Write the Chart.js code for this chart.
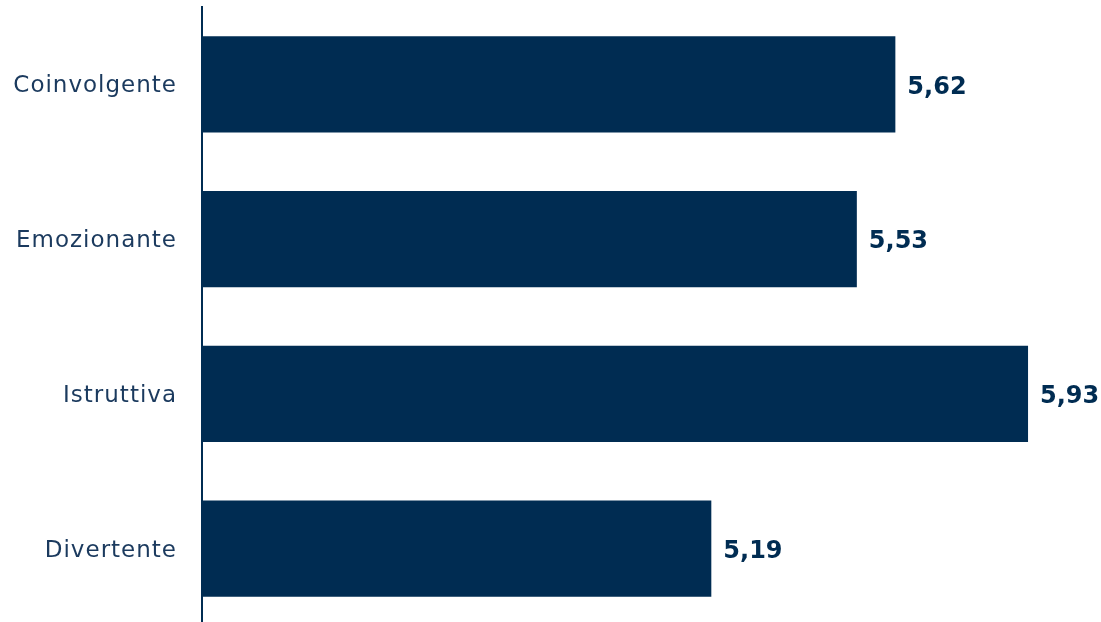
<!DOCTYPE html>
<html>
<head>
<meta charset="utf-8">
<script src="https://cdn.jsdelivr.net/npm/chart.js@4/dist/chart.umd.min.js"></script>
<style>
html,body{margin:0;padding:0;background:#fff;overflow:hidden;}
#wrap{width:1101px;height:626px;position:relative;}
</style>
</head>
<body>
<div id="wrap"><canvas id="c"></canvas></div>
<script>
const categories = ["Coinvolgente", "Emozionante", "Istruttiva", "Divertente"];
const values = [5.62, 5.53, 5.93, 5.19];
const valueLabels = ["5,62", "5,53", "5,93", "5,19"];

const NAVY = "#002c52";
const TEXT = "#1b3a5e";

const labelPlugin = {
  id: "valueLabels",
  afterDatasetsDraw(chart) {
    const ctx = chart.ctx;
    const meta = chart.getDatasetMeta(0);
    const yScale = chart.scales.y;
    ctx.save();
    ctx.font = "bold 24px 'DejaVu Sans', sans-serif";
    ctx.fillStyle = NAVY;
    ctx.textAlign = "left";
    ctx.textBaseline = "middle";
    meta.data.forEach((bar, i) => {
      ctx.fillText(valueLabels[i], bar.x + 12, bar.y + 3);
    });
    ctx.font = "23px 'DejaVu Sans', sans-serif";
    ctx.fillStyle = TEXT;
    ctx.textAlign = "right";
    if ("letterSpacing" in ctx) ctx.letterSpacing = "1px";
    categories.forEach((c, i) => {
      const y = yScale.getPixelForTick(i);
      ctx.fillText(c, yScale.right - 25, y + 2);
    });
    ctx.restore();
  }
};

new Chart(document.getElementById("c"), {
  type: "bar",
  data: {
    labels: categories,
    datasets: [{
      data: values,
      backgroundColor: NAVY,
      borderWidth: 0,
      barPercentage: 0.622,
      categoryPercentage: 1.0
    }]
  },
  options: {
    indexAxis: "y",
    responsive: true,
    maintainAspectRatio: false,
    animation: false,
    layout: { padding: { top: 7, bottom: 0, right: 43, left: 0 } },
    plugins: { legend: { display: false }, tooltip: { enabled: false } },
    scales: {
      x: {
        min: 4, max: 6,
        display: false
      },
      y: {
        grid: { display: false, drawTicks: false },
        border: { display: true, color: NAVY, width: 2 },
        ticks: { display: false },
        afterFit(scale) { scale.width = 202; scale.paddingTop = 0; scale.paddingBottom = 0; }
      }
    }
  },
  plugins: [labelPlugin]
});
</script>
</body>
</html>
